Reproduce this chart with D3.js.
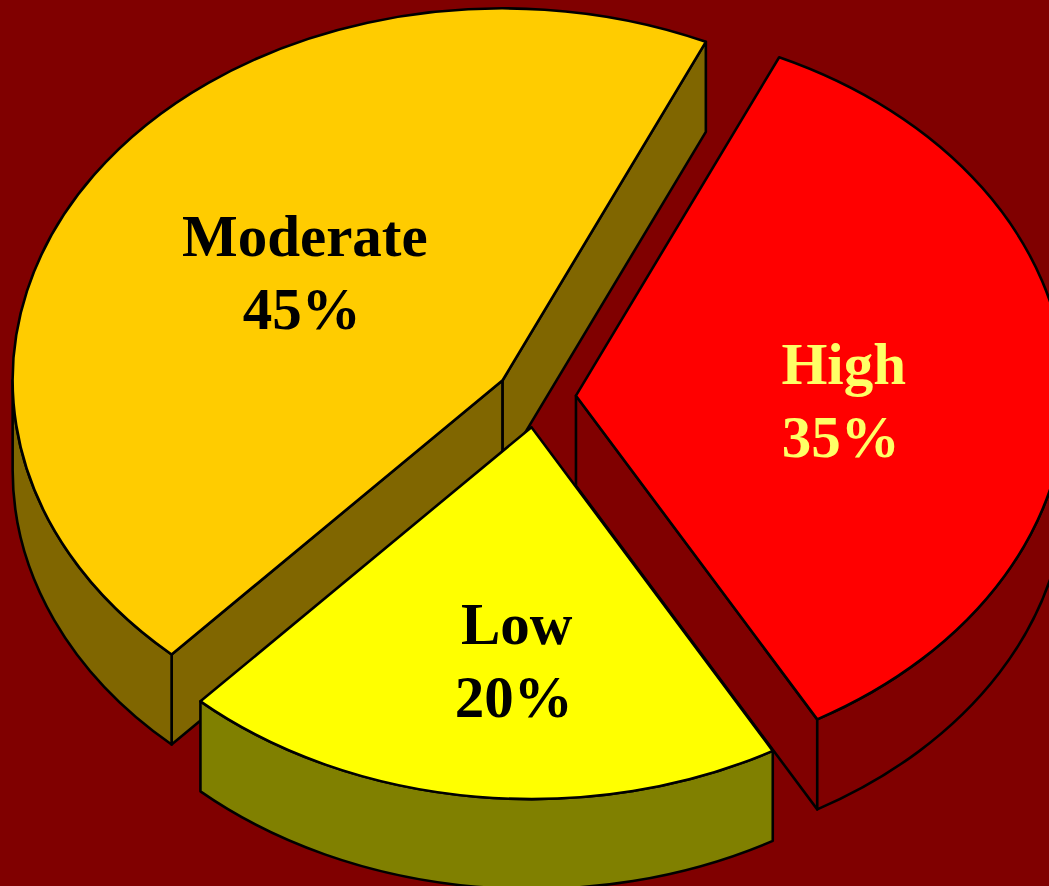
<!DOCTYPE html>
<html>
<head>
<meta charset="utf-8">
<script src="https://cdn.jsdelivr.net/npm/d3@7"></script>
<style>
  html, body { margin: 0; padding: 0; background: #800000; }
  svg { display: block; }
</style>
</head>
<body>
<div id="diagram"></div>
<script>
// data (pie order, clockwise from the start angle)
const categories = ['High', 'Low', 'Moderate'];
const values = [35, 20, 45];
const percentLabels = ['35%', '20%', '45%'];

// colours
const topColors = ['#ff0000', '#ffff00', '#ffcc00'];
const sideColors = ['#800000', '#808000', '#806600'];
const labelColors = ['#ffff66', '#000000', '#000000'];

!(function () {
  'use strict';
  // - - - - - - - - - -
  // declaration
  let
    canvas = undefined,
    pieGeo = undefined,
    svg = undefined,
    pie = undefined,
    arc = undefined,
    arcs = undefined,

    setCanvas = undefined,
    sliceGroup = undefined,
    radialFace = undefined,
    outerWall = undefined,
    drawSlices = undefined,
    drawLabels = undefined;

  // head section
  canvas = {
    width: 1049,
    height: 886,
    background: '#800000'
  };
  pieGeo = {
    cx: 536,
    cy: 397,
    rx: 490,
    tilt: 0.759,      // ry / rx
    depth: 90,
    explode: 40,
    startDeg: 24.5,   // d3 pie angle (0 = 12 o'clock)
    stroke: 2.6,
    labelR: 254,
    labelTilt: 0.87,
    labelDx: 14,
    labelDy: 34,
    lineGap: 73,
    fontSize: 59
  };

  // methods
  setCanvas = function (contextSelector) {
    svg = d3.select(contextSelector)
      .append('svg')
      .attr('width', canvas.width)
      .attr('height', canvas.height)
      .attr('viewBox', '0 0 ' + canvas.width + ' ' + canvas.height);

    svg.append('rect')
      .attr('width', canvas.width)
      .attr('height', canvas.height)
      .attr('fill', canvas.background);
  };

  // screen angle (0 = 3 o'clock, clockwise) from a d3 pie angle
  const toScreen = a => a - Math.PI / 2;

  sliceGroup = function (d) {
    let m = toScreen((d.startAngle + d.endAngle) / 2),
      tx = pieGeo.cx + pieGeo.explode * Math.cos(m),
      ty = pieGeo.cy + pieGeo.explode * pieGeo.tilt * Math.sin(m);
    return 'translate(' + tx + ', ' + ty + ') scale(1, ' + pieGeo.tilt + ')';
  };

  radialFace = function (phi) {
    let r = pieGeo.rx,
      D = pieGeo.depth / pieGeo.tilt,
      x = r * Math.cos(phi),
      y = r * Math.sin(phi);
    return d3.line()([[0, 0], [x, y], [x, y + D], [0, D]]) + 'Z';
  };

  outerWall = function (p0, p1) {
    let r = pieGeo.rx,
      D = pieGeo.depth / pieGeo.tilt,
      p = d3.path();
    p.moveTo(r * Math.cos(p0), r * Math.sin(p0));
    p.arc(0, 0, r, p0, p1, false);
    p.lineTo(r * Math.cos(p1), r * Math.sin(p1) + D);
    p.arc(0, D, r, p1, p0, true);
    p.closePath();
    return p.toString();
  };

  drawSlices = function () {
    let a0 = pieGeo.startDeg * Math.PI / 180;

    pie = d3.pie()
      .sort(null)
      .value(d => d)
      .startAngle(a0)
      .endAngle(a0 + 2 * Math.PI);

    arc = d3.arc()
      .innerRadius(0)
      .outerRadius(pieGeo.rx);

    arcs = pie(values);

    // paint from back to front
    let order = d3.range(arcs.length).sort((i, j) =>
      Math.sin(toScreen((arcs[i].startAngle + arcs[i].endAngle) / 2)) -
      Math.sin(toScreen((arcs[j].startAngle + arcs[j].endAngle) / 2)));

    order.forEach(function (i) {
      let d = arcs[i],
        p0 = toScreen(d.startAngle),
        p1 = toScreen(d.endAngle),
        g = svg.append('g').attr('transform', sliceGroup(d)),
        style = function (sel, fill) {
          sel.attr('fill', fill)
            .attr('stroke', '#000')
            .attr('stroke-width', pieGeo.stroke)
            .attr('stroke-linejoin', 'round')
            .attr('vector-effect', 'non-scaling-stroke');
        };

      // cut faces that look toward the viewer
      if (Math.cos(p0) < 0) {
        g.append('path').attr('d', radialFace(p0)).call(style, sideColors[i]);
      }
      if (Math.cos(p1) > 0) {
        g.append('path').attr('d', radialFace(p1)).call(style, sideColors[i]);
      }

      // front part of the rim
      let lo = Math.max(p0, 0),
        hi = Math.min(p1, Math.PI);
      if (hi > lo) {
        g.append('path').attr('d', outerWall(lo, hi)).call(style, sideColors[i]);
      }

      // top face
      g.append('path').attr('d', arc(d)).call(style, topColors[i]);
    });
  };

  drawLabels = function () {
    arcs.forEach(function (d, i) {
      let m = toScreen((d.startAngle + d.endAngle) / 2),
        ax = pieGeo.cx + pieGeo.explode * Math.cos(m),
        ay = pieGeo.cy + pieGeo.explode * pieGeo.tilt * Math.sin(m),
        lx = ax + pieGeo.labelR * Math.cos(m) + pieGeo.labelDx,
        ly = ay + pieGeo.labelR * pieGeo.labelTilt * Math.sin(m) + pieGeo.labelDy;

      let t = svg.append('text')
        .attr('text-anchor', 'middle')
        .attr('font-family', '"Liberation Serif", "Times New Roman", serif')
        .attr('font-weight', 'bold')
        .attr('font-size', pieGeo.fontSize)
        .attr('fill', labelColors[i]);

      t.append('tspan')
        .attr('x', lx)
        .attr('y', ly - pieGeo.lineGap / 2)
        .text(categories[i]);
      t.append('tspan')
        .attr('x', lx - 3)
        .attr('y', ly + pieGeo.lineGap / 2)
        .text(percentLabels[i]);
    });
  };

  // control
  setCanvas('#diagram');
  drawSlices();
  drawLabels();
  // - - - - - - - - - -
}());
</script>
</body>
</html>
